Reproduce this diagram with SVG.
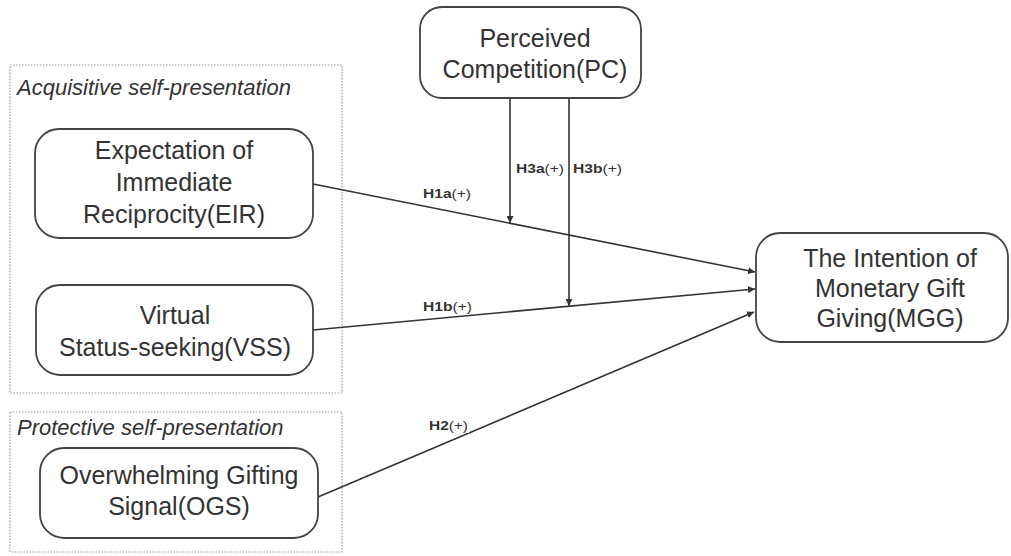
<svg xmlns="http://www.w3.org/2000/svg" width="1011" height="556" viewBox="0 0 1011 556">
<defs>
<style>
.grp{fill:none;stroke:#9a9a9a;stroke-width:1.2;stroke-dasharray:1.5 1.5}
.glabel{font-family:"Liberation Sans",Arial,sans-serif;font-style:italic;font-size:22px;fill:#333}
.box{fill:#fff;stroke:#444;stroke-width:1.8}
.nt{font-family:"Liberation Sans",Arial,sans-serif;font-size:25px;fill:#333;text-anchor:middle}
.edge{fill:none;stroke:#333;stroke-width:1.6}
.hl{font-family:"Liberation Sans",Arial,sans-serif;font-size:13px;fill:#333}
.hl .b{font-weight:bold}
</style>
<marker id="ah" viewBox="0 0 10 10" refX="10" refY="5" markerWidth="7" markerHeight="7" markerUnits="userSpaceOnUse" orient="auto">
<path d="M0,0 L10,5 L0,10 z" fill="#333"/>
</marker>
</defs>
<rect width="1011" height="556" fill="#fff"/>
<g id="group-acquisitive">
<rect class="grp" x="10" y="65" width="332" height="328"/>
<text class="glabel" x="17" y="95">Acquisitive self-presentation</text>
</g>
<g id="group-protective">
<rect class="grp" x="10" y="412" width="332" height="140"/>
<text class="glabel" x="17" y="435">Protective self-presentation</text>
</g>
<g id="connectors">
<line class="edge" x1="313" y1="184" x2="755" y2="272" marker-end="url(#ah)"/>
<line class="edge" x1="313" y1="330" x2="755" y2="289" marker-end="url(#ah)"/>
<line class="edge" x1="318" y1="497" x2="754" y2="312" marker-end="url(#ah)"/>
<line class="edge" x1="510" y1="98" x2="510" y2="223" marker-end="url(#ah)"/>
<line class="edge" x1="569" y1="98" x2="569" y2="306" marker-end="url(#ah)"/>
<text class="hl" x="423" y="198" textLength="48" lengthAdjust="spacingAndGlyphs"><tspan class="b">H1a</tspan>(+)</text>
<text class="hl" x="516" y="173" textLength="48" lengthAdjust="spacingAndGlyphs"><tspan class="b">H3a</tspan>(+)</text>
<text class="hl" x="573" y="173" textLength="49" lengthAdjust="spacingAndGlyphs"><tspan class="b">H3b</tspan>(+)</text>
<text class="hl" x="423" y="311" textLength="49" lengthAdjust="spacingAndGlyphs"><tspan class="b">H1b</tspan>(+)</text>
<rect x="428" y="418" width="41" height="15" fill="#fff"/>
<text class="hl" x="429" y="430" textLength="39" lengthAdjust="spacingAndGlyphs"><tspan class="b">H2</tspan>(+)</text>
</g>
<g id="node-pc">
<rect class="box" x="420" y="7" width="221" height="91" rx="22"/>
<text class="nt" x="535" y="47">Perceived</text>
<text class="nt" x="535" y="78">Competition(PC)</text>
</g>
<g id="node-eir">
<rect class="box" x="35" y="129" width="278" height="109" rx="24"/>
<text class="nt" x="174" y="159">Expectation of</text>
<text class="nt" x="174" y="191">Immediate</text>
<text class="nt" x="174" y="223">Reciprocity(EIR)</text>
</g>
<g id="node-vss">
<rect class="box" x="36" y="285" width="277" height="90" rx="24"/>
<text class="nt" x="175" y="324">Virtual</text>
<text class="nt" x="175" y="356">Status-seeking(VSS)</text>
</g>
<g id="node-ogs">
<rect class="box" x="40" y="448" width="278" height="90" rx="24"/>
<text class="nt" x="179" y="484">Overwhelming Gifting</text>
<text class="nt" x="179" y="515">Signal(OGS)</text>
</g>
<g id="node-mgg">
<rect class="box" x="756" y="233" width="252" height="109" rx="24"/>
<text class="nt" x="890" y="267">The Intention of</text>
<text class="nt" x="890" y="297">Monetary Gift</text>
<text class="nt" x="890" y="327">Giving(MGG)</text>
</g>
</svg>
